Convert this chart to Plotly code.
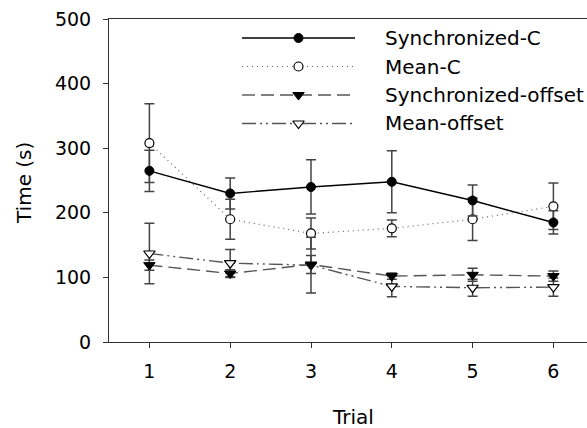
import plotly.graph_objects as go

# ---- data ----
trials = [1, 2, 3, 4, 5, 6]
sync_c = [265, 230, 240, 248, 219, 185]
sync_c_err = [32, 24, 42, 48, 24, 18]
mean_c = [308, 190, 168, 176, 190, 210]
mean_c_err = [61, 31, 24, 13, 33, 36]
sync_off = [119, 106, 120, 102, 104, 102]
sync_off_err = [8, 6, 14, 5, 10, 8]
mean_off = [137, 122, 119, 86, 84, 85]
mean_off_err = [47, 21, 43, 16, 13, 14]
series_names = ["Synchronized-C", "Mean-C", "Synchronized-offset", "Mean-offset"]
y_ticks = [0, 100, 200, 300, 400, 500]

# ---- layout geometry ----
W, H = 587, 428
L, R, T, B = 109, 0, 19, 86
PW, PH = W - L - R, H - T - B
FONT = "DejaVu Sans, Arial, sans-serif"

def px_x(px):
    return (px - L) / PW

def px_y(py):
    return (H - B - py) / PH

styles = [
    dict(line=dict(color="black", width=1.4, dash="solid"),
         marker=dict(symbol="circle", size=9, color="black", line=dict(color="black", width=1))),
    dict(line=dict(color="#666666", width=1.2, dash="1px,4px"),
         marker=dict(symbol="circle", size=9, color="white", line=dict(color="black", width=1.2))),
    dict(line=dict(color="#555555", width=1.4, dash="13px,6px"),
         marker=dict(symbol="triangle-down", size=10, color="black", line=dict(color="black", width=1))),
    dict(line=dict(color="#555555", width=1.4, dash="14px,4px,2px,4px,2px,4px"),
         marker=dict(symbol="triangle-down", size=10, color="white", line=dict(color="black", width=1.2))),
]
values = [(sync_c, sync_c_err), (mean_c, mean_c_err), (sync_off, sync_off_err), (mean_off, mean_off_err)]

fig = go.Figure()
draw_order = [1, 3, 2, 0]
for i in draw_order:
    v, e = values[i]
    fig.add_trace(go.Scatter(
        x=trials, y=v, mode="lines+markers", name=series_names[i],
        line=styles[i]["line"], marker=styles[i]["marker"],
        error_y=dict(type="data", array=e, visible=True, color="#444444", thickness=1.5, width=5),
        showlegend=False, cliponaxis=False,
    ))

# ---- manual legend (overlay axes in 0..1 space) ----
leg_rows = [38, 66.5, 95, 123.5]
leg_x0, leg_x1, leg_text_x = 242, 355, 383
for i, ry in enumerate(leg_rows):
    yy = px_y(ry)
    fig.add_trace(go.Scatter(
        x=[px_x(leg_x0), px_x(leg_x1)], y=[yy, yy], mode="lines",
        line=styles[i]["line"], xaxis="x2", yaxis="y2", showlegend=False, hoverinfo="skip",
    ))
    fig.add_trace(go.Scatter(
        x=[px_x((leg_x0 + leg_x1) / 2)], y=[yy], mode="markers",
        marker=styles[i]["marker"], xaxis="x2", yaxis="y2", showlegend=False, hoverinfo="skip",
    ))
    fig.add_annotation(x=px_x(leg_text_x), y=yy, xref="paper", yref="paper",
                       text=series_names[i], showarrow=False, xanchor="left", yanchor="middle",
                       font=dict(family=FONT, size=20, color="black"))

# axis titles
fig.add_annotation(x=px_x(24), y=px_y(183), xref="paper", yref="paper", text="Time (s)",
                   textangle=-90, showarrow=False, xanchor="center", yanchor="middle",
                   font=dict(family=FONT, size=20, color="black"))
fig.add_annotation(x=px_x(353), y=px_y(417), xref="paper", yref="paper", text="Trial",
                   showarrow=False, xanchor="center", yanchor="middle",
                   font=dict(family=FONT, size=20, color="black"))

fig.update_layout(
    width=W, height=H, margin=dict(l=L, r=R, t=T, b=B, pad=0),
    plot_bgcolor="white", paper_bgcolor="white", showlegend=False,
    font=dict(family=FONT, size=19, color="black"),
    xaxis=dict(range=[0.5, 0.5 + PW / 80.8], tickvals=trials, ticks="outside", ticklen=5,
               tickcolor="#333", showline=True, linecolor="#333", linewidth=1, mirror=True,
               showgrid=False, zeroline=False, ticklabelstandoff=7),
    yaxis=dict(range=[0, 500], tickvals=y_ticks, ticks="outside", ticklen=5,
               tickcolor="#333", showline=True, linecolor="#333", linewidth=1,
               showgrid=False, zeroline=False, ticklabelstandoff=8),
    xaxis2=dict(overlaying="x", range=[0, 1], visible=False),
    yaxis2=dict(overlaying="y", range=[0, 1], visible=False),
)

fig.write_html("out.html", config={"displayModeBar": False},
               post_script="document.body.style.margin='0';document.body.style.overflow='hidden';")
